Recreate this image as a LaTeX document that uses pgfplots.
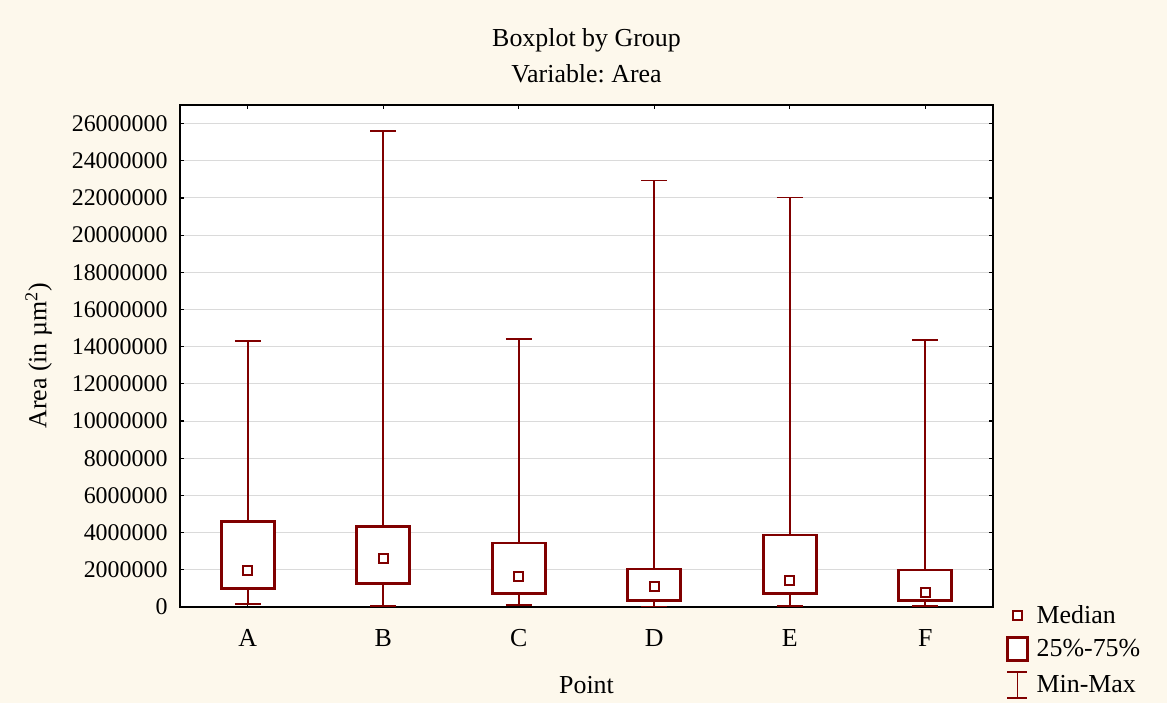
\documentclass[border=0pt]{standalone}
\usepackage{pgfplots}
\pgfplotsset{compat=1.18}
\usepackage{fontspec}
\setmainfont{Liberation Serif}
\frenchspacing
\definecolor{paper}{RGB}{253,248,236}
\definecolor{boxred}{RGB}{128,0,0}
\definecolor{gridgray}{RGB}{218,218,218}

\pgfplotsset{
  whisk/.style={forget plot, boxred, line width=1.8bp, mark=none},
  quart/.style={forget plot, boxred, line width=2.8bp, mark=none, fill=white, line join=miter},
}

\begin{document}
\begin{tikzpicture}
% page background
\fill[paper] (-180bp,-96bp) rectangle (987bp,607bp);
\begin{axis}[
  at={(0bp,0bp)}, anchor=south west,
  scale only axis, width=813bp, height=502bp,
  xmin=0.5, xmax=6.5, ymin=0, ymax=27000000,
  axis background/.style={fill=white},
  xtick={1,2,3,4,5,6},
  xticklabels={A,B,C,D,E,F},
  ytick={0,2000000,4000000,6000000,8000000,10000000,12000000,14000000,16000000,18000000,20000000,22000000,24000000,26000000},
  yticklabels={0,2000000,4000000,6000000,8000000,10000000,12000000,14000000,16000000,18000000,20000000,22000000,24000000,26000000},
  scaled y ticks=false,
  tick align=inside,
  major tick length=4bp,
  tick style={black, line width=1.2bp},
  axis line style={black, line width=1.6bp},
  ymajorgrids,
  grid style={gridgray, line width=1bp},
  yticklabel style={font=\fontsize{24}{28}\selectfont, xshift=-9bp},
  xticklabel style={font=\fontsize{26}{30}\selectfont, yshift=-19bp},
  xlabel={Point},
  ylabel={Area (in µm\textsuperscript{2})},
  label style={font=\fontsize{26}{30}\selectfont},
  xlabel style={yshift=-23bp},
  ylabel style={yshift=13bp},
  title={Boxplot by Group\\Variable: Area},
  title style={font=\fontsize{26}{36}\selectfont, align=center, yshift=13bp},
  legend style={at={(1.005,0.011)}, anchor=north west, draw=none, fill=none,
    font=\fontsize{26}{30}\selectfont, row sep=9bp},
  legend cell align=left,
]
% Each group: min--max whisker with caps, then the 25%-75% box on top.
% A: min 150000, Q1 1000000, median 1950000, Q3 4620000, max 14290000
\addplot[whisk] coordinates {(1,150000) (1,14290000)};
\addplot[whisk] coordinates {(0.905,150000) (1.095,150000)};
\addplot[whisk] coordinates {(0.905,14290000) (1.095,14290000)};
\addplot[quart] coordinates {(0.805,1000000) (1.195,1000000) (1.195,4620000) (0.805,4620000)} -- cycle;
% B
\addplot[whisk] coordinates {(2,50000) (2,25620000)};
\addplot[whisk] coordinates {(1.905,50000) (2.095,50000)};
\addplot[whisk] coordinates {(1.905,25620000) (2.095,25620000)};
\addplot[quart] coordinates {(1.805,1250000) (2.195,1250000) (2.195,4340000) (1.805,4340000)} -- cycle;
% C
\addplot[whisk] coordinates {(3,120000) (3,14400000)};
\addplot[whisk] coordinates {(2.905,120000) (3.095,120000)};
\addplot[whisk] coordinates {(2.905,14400000) (3.095,14400000)};
\addplot[quart] coordinates {(2.805,720000) (3.195,720000) (3.195,3440000) (2.805,3440000)} -- cycle;
% D
\addplot[whisk] coordinates {(4,30000) (4,22940000)};
\addplot[whisk] coordinates {(3.905,30000) (4.095,30000)};
\addplot[whisk] coordinates {(3.905,22940000) (4.095,22940000)};
\addplot[quart] coordinates {(3.805,360000) (4.195,360000) (4.195,2040000) (3.805,2040000)} -- cycle;
% E
\addplot[whisk] coordinates {(5,50000) (5,22030000)};
\addplot[whisk] coordinates {(4.905,50000) (5.095,50000)};
\addplot[whisk] coordinates {(4.905,22030000) (5.095,22030000)};
\addplot[quart] coordinates {(4.805,720000) (5.195,720000) (5.195,3870000) (4.805,3870000)} -- cycle;
% F
\addplot[whisk] coordinates {(6,50000) (6,14340000)};
\addplot[whisk] coordinates {(5.905,50000) (6.095,50000)};
\addplot[whisk] coordinates {(5.905,14340000) (6.095,14340000)};
\addplot[quart] coordinates {(5.805,340000) (6.195,340000) (6.195,1990000) (5.805,1990000)} -- cycle;
% medians
\addplot[forget plot, only marks, mark=square*, mark size=4.6bp,
  mark options={draw=boxred, fill=white, line width=1.8bp}]
  coordinates {(1,1950000) (2,2600000) (3,1650000) (4,1110000) (5,1430000) (6,770000)};

\addlegendimage{legend image code/.code={\path (0bp,0bp) (34bp,0bp); \draw[boxred, line width=1.8bp, fill=white] (12.4bp,-4.6bp) rectangle (21.6bp,4.6bp);}}
\addlegendentry{Median}
\addlegendimage{legend image code/.code={\path (0bp,0bp) (34bp,0bp); \draw[boxred, line width=2.8bp, fill=white] (7bp,-11.5bp) rectangle (27bp,11.5bp);}}
\addlegendentry{25\%-75\%}
\addlegendimage{legend image code/.code={\path (0bp,0bp) (34bp,0bp); \draw[boxred, line width=1.8bp] (17bp,-13bp) -- (17bp,13bp) (7bp,13bp) -- (27bp,13bp) (7bp,-13bp) -- (27bp,-13bp);}}
\addlegendentry{Min-Max}
\end{axis}
\pgfresetboundingbox
\path[use as bounding box] (-180bp,-96bp) rectangle (987bp,607bp);
\end{tikzpicture}
\end{document}
